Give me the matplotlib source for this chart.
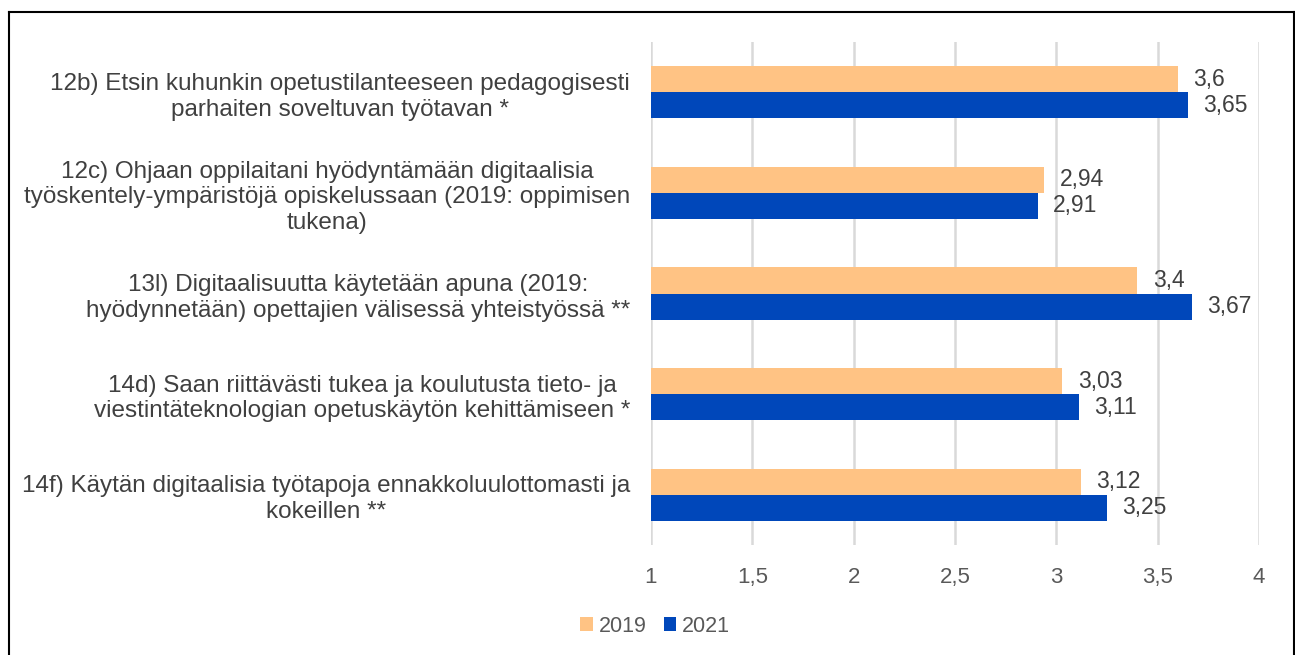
import matplotlib
matplotlib.use("Agg")
import matplotlib.pyplot as plt
from matplotlib.lines import Line2D
from matplotlib.patches import Patch
import numpy as np

plt.rcParams['font.family'] = ['Liberation Sans', 'DejaVu Sans']

categories = [
    "12b) Etsin kuhunkin opetustilanteeseen pedagogisesti\nparhaiten soveltuvan työtavan *",
    "12c) Ohjaan oppilaitani hyödyntämään digitaalisia\ntyöskentely-ympäristöjä opiskelussaan (2019: oppimisen\ntukena)",
    "13l) Digitaalisuutta käytetään apuna (2019:\nhyödynnetään) opettajien välisessä yhteistyössä **",
    "14d) Saan riittävästi tukea ja koulutusta tieto- ja\nviestintäteknologian opetuskäytön kehittämiseen *",
    "14f) Käytän digitaalisia työtapoja ennakkoluulottomasti ja\nkokeillen **",
]
values_2019 = [3.6, 2.94, 3.4, 3.03, 3.12]
values_2021 = [3.65, 2.91, 3.67, 3.11, 3.25]
series_names = ["2019", "2021"]
xticks = [1, 1.5, 2, 2.5, 3, 3.5, 4]
xtick_labels = ["1", "1,5", "2", "2,5", "3", "3,5", "4"]

c2019 = "#FFC384"
c2021 = "#0047BA"
txt = "#404040"
tick_col = "#595959"

fig = plt.figure(figsize=(12.95, 6.55), dpi=100)
ax = fig.add_axes([651/1295, 1-545/655, (1259-651)/1295, (545-42)/655])

y = np.arange(len(categories))
h = 0.26
ax.barh(y - h/2, [v - 1 for v in values_2019], left=1, height=h, color=c2019, zorder=3)
ax.barh(y + h/2, [v - 1 for v in values_2021], left=1, height=h, color=c2021, zorder=3)

def fmt(v):
    return ("%g" % v).replace('.', ',')

for yi, v in zip(y - h/2, values_2019):
    ax.annotate(fmt(v), (v, yi), xytext=(11, 0), textcoords='offset points',
                va='center', ha='left', fontsize=16.5, color=txt)
for yi, v in zip(y + h/2, values_2021):
    ax.annotate(fmt(v), (v, yi), xytext=(11, 0), textcoords='offset points',
                va='center', ha='left', fontsize=16.5, color=txt)

ax.set_xlim(1, 4)
ax.set_ylim(len(categories) - 0.5, -0.5)
ax.set_xticks(xticks)
ax.set_xticklabels(xtick_labels, fontsize=16, color=tick_col)
ax.set_yticks(y)
ax.set_yticklabels(categories, fontsize=17.5, color=txt, linespacing=1.22,
                   multialignment='center')
ax.tick_params(axis='both', length=0)
ax.tick_params(axis='x', pad=16)
ax.tick_params(axis='y', pad=15)
ax.grid(axis='x', color='#D9D9D9', linewidth=1.8, zorder=0)
ax.set_axisbelow(True)
for s in ax.spines.values():
    s.set_visible(False)

handles = [Patch(facecolor=c2019, label=series_names[0]),
           Patch(facecolor=c2021, label=series_names[1])]
fig.legend(handles=handles, loc='center', bbox_to_anchor=(655/1295, 1-626/655),
           ncol=2, frameon=False, fontsize=15.5, handlelength=0.6, handleheight=0.6,
           handletextpad=0.25, columnspacing=0.8, labelcolor=tick_col)

# outer frame
fx0, fx1 = 9/1295, 1293.5/1295
fy1 = 1-12/655
for xs, ys in [([fx0, fx0], [-0.01, fy1]), ([fx0, fx1], [fy1, fy1]), ([fx1, fx1], [fy1, -0.01])]:
    fig.add_artist(Line2D(xs, ys, transform=fig.transFigure, color='black', linewidth=1.5))

fig.savefig("out.png", dpi=100)
